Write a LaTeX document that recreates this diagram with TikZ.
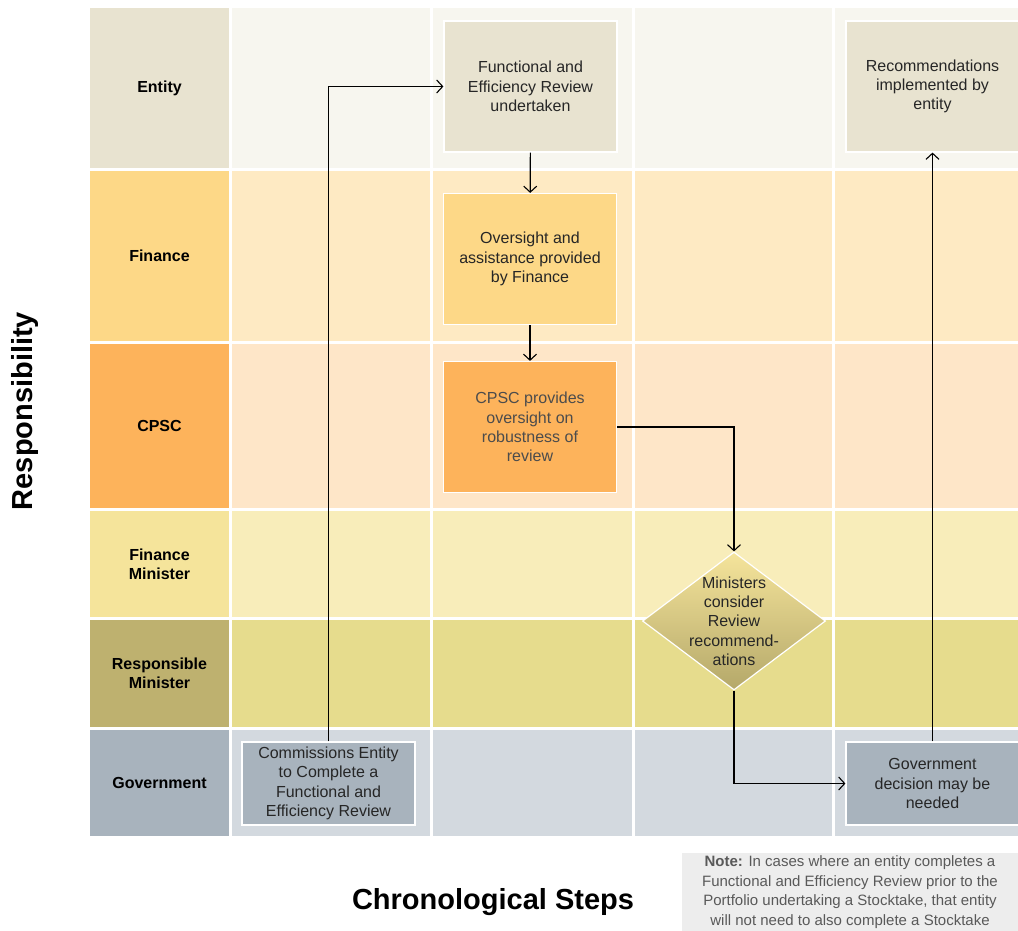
\documentclass[tikz,border=0pt]{standalone}
\usepackage{fontspec}
\setmainfont{Liberation Sans}
\usetikzlibrary{arrows.meta,shapes.geometric}

\definecolor{enthead}{HTML}{E8E3D0}
\definecolor{entcell}{HTML}{F7F6EF}
\definecolor{finhead}{HTML}{FDD887}
\definecolor{fincell}{HTML}{FEEAC3}
\definecolor{cpschead}{HTML}{FDB35B}
\definecolor{cpsccell}{HTML}{FEE6C8}
\definecolor{fmhead}{HTML}{F5E49B}
\definecolor{fmcell}{HTML}{F8EDBA}
\definecolor{rmhead}{HTML}{BEB16F}
\definecolor{rmcell}{HTML}{E6DC8D}
\definecolor{govhead}{HTML}{A8B3BD}
\definecolor{govcell}{HTML}{D3D9DF}
\definecolor{boxtext}{HTML}{262626}
\definecolor{notefill}{HTML}{EDEDED}
\definecolor{notetext}{HTML}{595959}

\begin{document}
\begin{tikzpicture}[x=1pt,y=-1pt,
    head/.style={font=\bfseries\fontsize{16}{19}\selectfont,align=center},
    stepbox/.style={draw=white,line width=1.2pt,minimum width=173pt,minimum height=131pt,
      inner sep=0pt,align=center,text=boxtext,font=\fontsize{16}{19.3}\selectfont},
    flow/.style={-{Straight Barb[length=6pt,width=13pt]},line width=1.1pt}]
  \useasboundingbox (0,0) rectangle (1018,931);

  \foreach \name/\top/\bot/\hc/\cc/\txt in {
      ent/8/168/enthead/entcell/Entity,
      fin/171/341/finhead/fincell/Finance,
      cpsc/344/508/cpschead/cpsccell/CPSC,
      fm/511/617/fmhead/fmcell/{Finance\\Minister},
      rm/620/727/rmhead/rmcell/{Responsible\\Minister},
      gov/730/836/govhead/govcell/Government} {
    \fill[\hc] (90,\top) rectangle (229,\bot);
    \foreach \l/\r in {232/430,433/632,635/832,835/1018}
      \fill[\cc] (\l,\top) rectangle (\r,\bot);
    \node[head] (h\name) at (159.5,{(\top+\bot)/2}) {\txt};
  }

  \node[stepbox,fill=enthead] (func) at (530.5,86.5)
    {Functional and\\Efficiency Review\\undertaken};
  \node[stepbox,fill=finhead] (over) at (530,259)
    {Oversight and\\assistance provided\\by Finance};
  \node[stepbox,fill=cpschead,text=notetext!85!black] (cpsc) at (530,427)
    {CPSC provides\\oversight on\\robustness of\\review};
  \node[stepbox,fill=enthead] (reco) at (932.5,86.5)
    {Recommendations\\implemented by\\entity};
  \node[stepbox,fill=govhead,minimum height=83pt] (comm) at (328.5,783.5)
    {Commissions Entity\\to Complete a\\Functional and\\Efficiency Review};
  \node[stepbox,fill=govhead,minimum height=83pt] (gdec) at (932.5,783.5)
    {Government\\decision may be\\needed};
  \node[diamond,draw=white,line width=1.2pt,top color=fmhead,bottom color=rmhead!95!black,
    minimum width=183pt,minimum height=138pt,inner sep=0pt] (dia) at (734,621) {};
  \node[align=center,text=boxtext,font=\fontsize{16}{19.3}\selectfont] (diatxt) at (dia.center)
    {Ministers\\consider\\Review\\recommend-\\ations};

  \draw[flow] (comm.north) |- (func.west);
  \draw[flow] (func) -- (over);
  \draw[flow] (over) -- (cpsc);
  \draw[flow] (cpsc.east) -| (dia.north);
  \draw[flow] (dia.south) |- (gdec.west);
  \draw[flow] (gdec) -- (reco);

  \node[font=\bfseries\fontsize{29}{32}\selectfont,rotate=90] (resp) at (25,411) {Responsibility};
  \node[font=\bfseries\fontsize{29}{32}\selectfont] (chrono) at (493,902) {Chronological Steps};
  \node[fill=notefill,text=notetext,align=center,minimum width=336pt,minimum height=78pt,
    inner sep=0pt,font=\fontsize{15}{19.5}\selectfont] (note) at (850,892)
    {\textbf{Note:} In cases where an entity completes a\\Functional and Efficiency Review prior to the\\
     Portfolio undertaking a Stocktake, that entity\\will not need to also complete a Stocktake};
\end{tikzpicture}
\end{document}
